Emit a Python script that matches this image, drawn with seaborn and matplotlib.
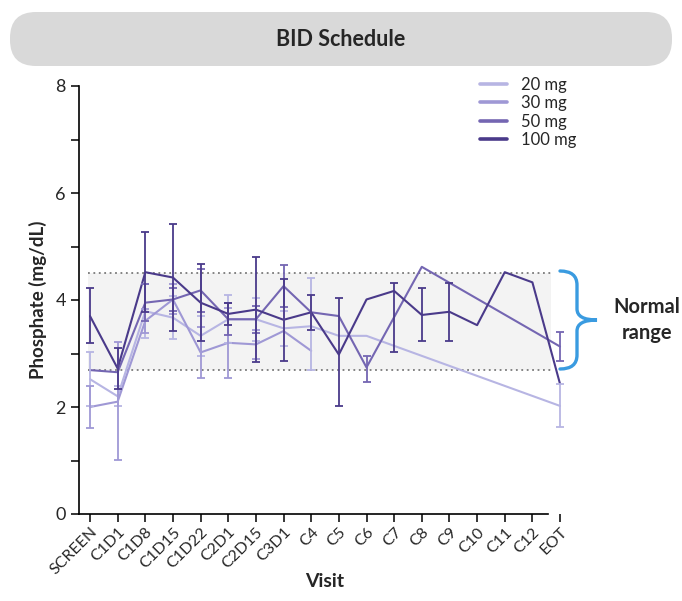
import numpy as np
import pandas as pd
import matplotlib
matplotlib.use("Agg")
import matplotlib.pyplot as plt
import seaborn as sns
from matplotlib.patches import FancyBboxPatch, PathPatch
from matplotlib.path import Path
from matplotlib.lines import Line2D

# ---------------- data ----------------
visits = ["SCREEN", "C1D1", "C1D8", "C1D15", "C1D22", "C2D1", "C2D15", "C3D1",
          "C4", "C5", "C6", "C7", "C8", "C9", "C10", "C11", "C12", "EOT"]
doses = ["20 mg", "30 mg", "50 mg", "100 mg"]
nan = np.nan

mean_20 = [2.52, 2.20, 3.79, 3.67, 3.33, 3.64, 3.64, 3.47, 3.51, 3.33, 3.33,
           nan, nan, nan, nan, nan, nan, 2.02]
lo_20 = [2.02, 2.01, 3.29, 3.27, 2.96, 3.19, 3.24, 3.14, 2.70, nan, nan,
         nan, nan, nan, nan, nan, nan, 1.62]
hi_20 = [3.02, 2.39, 4.29, 4.07, 3.70, 4.09, 4.04, 3.80, 4.41, nan, nan,
         nan, nan, nan, nan, nan, nan, 2.43]

mean_30 = [2.00, 2.10, 3.61, 4.01, 3.02, 3.20, 3.17, 3.42, 3.05, nan, nan,
           nan, nan, nan, nan, nan, nan, nan]
lo_30 = [1.60, 1.01, 3.39, 3.73, 2.55, 2.55, 2.90, nan, nan, nan, nan,
         nan, nan, nan, nan, nan, nan, nan]
hi_30 = [2.40, 3.21, 3.83, 4.29, 3.49, 3.85, 3.44, nan, nan, nan, nan,
         nan, nan, nan, nan, nan, nan, nan]

mean_50 = [2.69, 2.65, 3.95, 4.01, 4.18, 3.64, 3.64, 4.26, 3.77, 3.70, 2.74,
           nan, 4.62, nan, nan, nan, nan, 3.13]
lo_50 = [nan, nan, 3.60, 3.80, 3.78, 3.34, 3.39, 3.86, nan, nan, 2.46,
         nan, nan, nan, nan, nan, nan, 2.86]
hi_50 = [nan, nan, 4.30, 4.22, 4.58, 3.94, 3.89, 4.66, nan, nan, 2.96,
         nan, nan, nan, nan, nan, nan, 3.40]

mean_100 = [3.70, 2.72, 4.52, 4.42, 3.95, 3.74, 3.82, 3.63, 3.77, 2.98, 4.01,
            4.17, 3.72, 3.78, 3.53, 4.52, 4.33, 2.43]
lo_100 = [3.19, 2.33, 3.77, 3.42, 3.23, 3.54, 2.84, 2.86, 3.44, 2.02, nan,
          3.02, 3.23, 3.23, nan, nan, nan, nan]
hi_100 = [4.23, 3.11, 5.27, 5.42, 4.68, 3.94, 4.80, 4.40, 4.10, 4.04, nan,
          4.32, 4.23, 4.32, nan, nan, nan, nan]

normal_low, normal_high = 2.7, 4.5

colors = {"20 mg": "#B7B5E3", "30 mg": "#9F98D5", "50 mg": "#7466B2", "100 mg": "#4A3A8A"}

means = {"20 mg": mean_20, "30 mg": mean_30, "50 mg": mean_50, "100 mg": mean_100}
los = {"20 mg": lo_20, "30 mg": lo_30, "50 mg": lo_50, "100 mg": lo_100}
his = {"20 mg": hi_20, "30 mg": hi_30, "50 mg": hi_50, "100 mg": hi_100}

rows = []
for d in doses:
    for i, v in enumerate(visits):
        rows.append({"dose": d, "pos": i, "visit": v, "value": means[d][i],
                     "lo": los[d][i], "hi": his[d][i]})
df = pd.DataFrame(rows)

# ---------------- style ----------------
sns.set_theme(style="white")
plt.rcParams["font.family"] = ["Lato", "DejaVu Sans"]

W, H = 682, 601
fig = plt.figure(figsize=(W / 100, H / 100), dpi=100)
ax = fig.add_axes([79 / W, 1 - 514 / H, (571 - 79) / W, (514 - 86) / H])

# normal range band
ax.axhspan(normal_low, normal_high, xmin=0.018, xmax=0.96, color="#F3F3F3", zorder=0, lw=0)
for yv in (normal_low, normal_high):
    ax.axhline(yv, xmin=0.018, xmax=0.96, color="#7A7A7A", ls=(0, (1, 2)), lw=1.3, zorder=1)

# lines
line_df = df.dropna(subset=["value"])
sns.lineplot(data=line_df, x="pos", y="value", hue="dose", hue_order=doses,
             palette=colors, estimator=None, errorbar=None, sort=True,
             linewidth=1.5, legend=False, ax=ax, zorder=3)

# error bars
for d in doses:
    sub = df[(df["dose"] == d)].dropna(subset=["lo", "hi", "value"])
    ax.errorbar(sub["pos"], sub["value"],
                yerr=[sub["value"] - sub["lo"], sub["hi"] - sub["value"]],
                fmt="none", ecolor=colors[d], elinewidth=1.3, capsize=3,
                capthick=1.3, zorder=3)

# axes
ax.set_xlim(-0.398, 17.396)
ax.set_ylim(0, 8)
ax.set_yticks([0, 2, 4, 6, 8])
ax.set_yticks([1, 3, 5, 7], minor=True)
ax.set_xticks(range(len(visits)))
ax.set_xticklabels(visits, rotation=45, ha="right", rotation_mode="anchor", fontsize=11.5)
ax.tick_params(axis="y", labelsize=13, direction="out", length=6, width=1.1, left=True, color="black")
ax.tick_params(axis="y", which="minor", direction="out", length=6, width=1.1, left=True, color="black")
ax.tick_params(axis="x", direction="out", length=6, width=1.1, bottom=True, pad=2, color="black")
for s in ("top", "right"):
    ax.spines[s].set_visible(False)
for s in ("left", "bottom"):
    ax.spines[s].set_color("black")
    ax.spines[s].set_linewidth(1.2)
ax.spines["bottom"].set_bounds(-0.398, 16.56)
ax.grid(False)
ax.set_facecolor("none")
ax.set_xlabel("Visit", fontsize=14, fontweight="bold", labelpad=-3)
ax.set_ylabel("Phosphate (mg/dL)", fontsize=13.5, fontweight="bold", labelpad=6)

# legend
handles = [Line2D([0], [0], color=colors[d], lw=2.6) for d in doses]
fig.legend(handles, doses, loc="upper left", bbox_to_anchor=(480 / W, 1 - 77 / H),
           frameon=False, fontsize=12, handlelength=1.6, handletextpad=0.85,
           labelspacing=0.14, borderpad=0, borderaxespad=0)

# title bar
bar = FancyBboxPatch((0.10, (H - 66) / 100), 6.62, 0.54,
                     boxstyle="round,pad=0,rounding_size=0.26",
                     transform=fig.dpi_scale_trans, facecolor="#D9D9D9",
                     edgecolor="none", zorder=0)
fig.patches.append(bar)
fig.text(0.5, 1 - 40 / H, "BID Schedule", ha="center", va="center",
         fontsize=15.5, fontweight="bold")

# curly bracket
def P(x, y):
    return (x / W, 1 - y / H)

verts = [P(560, 271), P(577, 271), P(577, 285), P(577, 309), P(577, 320), P(597, 320),
         P(577, 320), P(577, 331), P(577, 355), P(577, 369), P(560, 369)]
codes = [Path.MOVETO, Path.CURVE3, Path.CURVE3, Path.LINETO, Path.CURVE3, Path.CURVE3,
         Path.CURVE3, Path.CURVE3, Path.LINETO, Path.CURVE3, Path.CURVE3]
brace = PathPatch(Path(verts, codes), transform=fig.transFigure, facecolor="none",
                  edgecolor="#3A9BE0", lw=2.4, capstyle="round")
fig.patches.append(brace)
fig.text(647 / W, 1 - 320 / H, "Normal\nrange", ha="center", va="center",
         fontsize=14.5, fontweight="bold", linespacing=1.35)

fig.savefig("out.png", dpi=100)
